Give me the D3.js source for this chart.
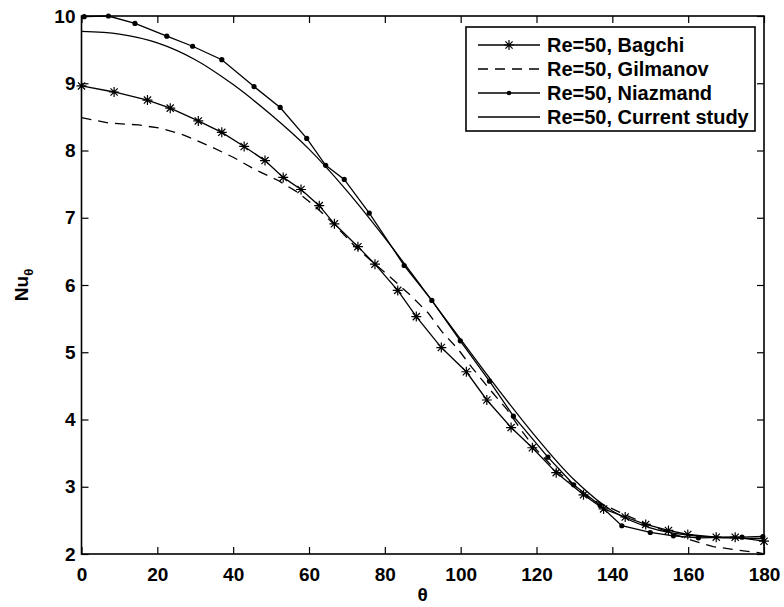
<!DOCTYPE html>
<html lang="en">
<head>
<meta charset="utf-8">
<title>Nu theta vs theta, Re=50</title>
<script src="https://cdnjs.cloudflare.com/ajax/libs/d3/7.8.5/d3.min.js"></script>
<style>
  body { margin: 0; background: #fff; }
  text { font-family: "Liberation Sans", Arial, sans-serif; font-weight: bold; fill: #000; }
</style>
</head>
<body>
<script>
// Bagchi (asterisks)
var bagchiTheta = [0, 8.6, 17.4, 23.4, 30.8, 37, 42.9, 48.4, 53.2, 57.9, 62.7, 66.7, 72.9, 77.4, 83.4, 88.3, 94.9, 101.5, 106.9, 113.3, 118.9, 125.2, 132.4, 137.7, 143.4, 148.8, 154.8, 159.9, 167.4, 172.4, 180];
var bagchiNu    = [8.96, 8.87, 8.75, 8.63, 8.44, 8.27, 8.06, 7.85, 7.60, 7.42, 7.18, 6.91, 6.57, 6.31, 5.92, 5.53, 5.07, 4.71, 4.29, 3.88, 3.58, 3.21, 2.88, 2.67, 2.55, 2.44, 2.35, 2.29, 2.25, 2.25, 2.19];

// Gilmanov (dashed)
var gilmanovTheta = [0, 7, 15, 21, 27, 34, 40, 46, 52, 57, 62, 67, 72, 77, 81.4, 86.7, 91.5, 95, 99.4, 103, 107.8, 112.2, 116.5, 120, 125, 130, 134, 142, 148, 155, 160.6, 166.6, 172.9, 178.6, 180];
var gilmanovNu    = [8.49, 8.41, 8.38, 8.33, 8.23, 8.06, 7.90, 7.71, 7.55, 7.38, 7.15, 6.88, 6.58, 6.33, 6.12, 5.85, 5.58, 5.31, 5.04, 4.77, 4.44, 4.15, 3.80, 3.55, 3.25, 3.02, 2.83, 2.62, 2.47, 2.32, 2.21, 2.11, 2.06, 2.02, 2.00];

// Niazmand (dots)
var niazTheta = [0.7, 7.1, 14.1, 22.5, 29.3, 37, 45.5, 52.4, 59.4, 64.4, 69.3, 75.9, 85.1, 92.4, 99.9, 107.6, 113.9, 123, 129.8, 136.8, 142.5, 150, 156.1, 162.7, 174.2, 179.7];
var niazNu    = [9.99, 10.0, 9.89, 9.70, 9.55, 9.35, 8.95, 8.64, 8.18, 7.78, 7.57, 7.07, 6.29, 5.77, 5.17, 4.57, 4.05, 3.44, 3.03, 2.72, 2.42, 2.32, 2.27, 2.24, 2.25, 2.26];

// Current study (smooth line)
var currentTheta = [0, 10, 20, 30, 40, 50, 60, 70, 80, 90, 100, 110, 120, 130, 140, 150, 160, 170, 180];
var currentNu    = [9.77, 9.73, 9.60, 9.35, 8.98, 8.53, 8.02, 7.40, 6.70, 5.95, 5.19, 4.44, 3.73, 3.10, 2.64, 2.39, 2.28, 2.24, 2.23];

var xTicks = [0, 20, 40, 60, 80, 100, 120, 140, 160, 180];
var yTicks = [2, 3, 4, 5, 6, 7, 8, 9, 10];
var legendLabels = ["Re=50, Bagchi", "Re=50, Gilmanov", "Re=50, Niazmand", "Re=50, Current study"];

var w = 784, h = 607;
var pLeft = 81.5, pRight = 764, pTop = 16, pBottom = 554;

var svg = d3.select("body").append("svg").attr("width", w).attr("height", h);

var x = d3.scaleLinear().domain([0, 180]).range([pLeft, pRight]);
var y = d3.scaleLinear().domain([2, 10]).range([pBottom, pTop]);

function zipPts(a, b) { return a.map(function(t, i) { return [t, b[i]]; }); }
var bagchi = zipPts(bagchiTheta, bagchiNu);
var gilmanov = zipPts(gilmanovTheta, gilmanovNu);
var niaz = zipPts(niazTheta, niazNu);
var current = zipPts(currentTheta, currentNu);

var line = d3.line().x(function(d) { return x(d[0]); }).y(function(d) { return y(d[1]); });
var smooth = d3.line().curve(d3.curveCatmullRom).x(function(d) { return x(d[0]); }).y(function(d) { return y(d[1]); });

svg.append("clipPath").attr("id", "clip").append("rect")
  .attr("x", pLeft).attr("y", pTop - 4).attr("width", pRight - pLeft + 6).attr("height", pBottom - pTop + 8);

var plot = svg.append("g").attr("clip-path", "url(#clip)");

plot.append("path").datum(current).attr("d", smooth)
  .attr("fill", "none").attr("stroke", "#000").attr("stroke-width", 1.3);
plot.append("path").datum(gilmanov).attr("d", line)
  .attr("fill", "none").attr("stroke", "#000").attr("stroke-width", 1.3).attr("stroke-dasharray", "10,7");
plot.append("path").datum(niaz).attr("d", line)
  .attr("fill", "none").attr("stroke", "#000").attr("stroke-width", 1.3);
plot.append("path").datum(bagchi).attr("d", line)
  .attr("fill", "none").attr("stroke", "#000").attr("stroke-width", 1.3);

// markers
var starPath = "M-5,0H5M0,-5V5M-3.6,-3.6L3.6,3.6M-3.6,3.6L3.6,-3.6";
svg.selectAll(".star").data(bagchi).enter().append("path")
  .attr("class", "star")
  .attr("transform", function(d) { return "translate(" + x(d[0]) + "," + y(d[1]) + ")"; })
  .attr("d", starPath).attr("stroke", "#000").attr("stroke-width", 1.2).attr("fill", "none");

svg.selectAll(".dot").data(niaz).enter().append("circle")
  .attr("class", "dot")
  .attr("cx", function(d) { return x(d[0]); })
  .attr("cy", function(d) { return y(d[1]); })
  .attr("r", 2.6).attr("fill", "#000");

// axes, ticks inward on all four sides
var fs = "19px";
var xAxisB = d3.axisBottom(x).tickValues(xTicks).tickSize(-7).tickPadding(14);
var xAxisT = d3.axisTop(x).tickValues(xTicks).tickSize(-7).tickFormat("");
var yAxisL = d3.axisLeft(y).tickValues(yTicks).tickSize(-7).tickPadding(6);
var yAxisR = d3.axisRight(y).tickValues(yTicks).tickSize(-7).tickFormat("");

function styleAxis(g) {
  g.select(".domain").remove();
  g.selectAll(".tick line").attr("stroke", "#000").attr("stroke-width", 1.2);
  g.selectAll("text").style("font-size", fs).style("font-family", "'Liberation Sans', Arial, sans-serif").style("font-weight", "bold");
}
svg.append("g").attr("transform", "translate(0," + pBottom + ")").call(xAxisB).call(styleAxis);
svg.append("g").attr("transform", "translate(0," + pTop + ")").call(xAxisT).call(styleAxis);
svg.append("g").attr("transform", "translate(" + pLeft + ",0)").call(yAxisL).call(styleAxis);
svg.append("g").attr("transform", "translate(" + pRight + ",0)").call(yAxisR).call(styleAxis);

svg.append("rect").attr("x", pLeft).attr("y", pTop).attr("width", pRight - pLeft).attr("height", pBottom - pTop)
  .attr("fill", "none").attr("stroke", "#000").attr("stroke-width", 1.6);

// axis titles
svg.append("text").attr("x", (pLeft + pRight) / 2).attr("y", 601).attr("text-anchor", "middle")
  .style("font-size", fs).text("θ");

var yl = svg.append("text").attr("transform", "translate(28," + ((pTop + pBottom) / 2) + ") rotate(-90)")
  .attr("text-anchor", "middle").style("font-size", fs);
yl.append("tspan").text("Nu");
yl.append("tspan").attr("dy", 5).style("font-size", "13px").text("θ");

// legend
var lx = 466, ly = 27, lw = 289, rowH = 24;
var leg = svg.append("g");
leg.append("rect").attr("x", lx).attr("y", ly).attr("width", lw).attr("height", 104)
  .attr("fill", "#fff").attr("stroke", "#000").attr("stroke-width", 1.6);

legendLabels.forEach(function(lab, i) {
  var cy = ly + 18 + i * rowH;
  var ln = leg.append("line").attr("x1", lx + 12).attr("x2", lx + 74).attr("y1", cy).attr("y2", cy)
    .attr("stroke", "#000").attr("stroke-width", 1.3);
  if (i === 1) ln.attr("stroke-dasharray", "10,7");
  if (i === 0) leg.append("path").attr("transform", "translate(" + (lx + 43) + "," + cy + ")")
    .attr("d", starPath).attr("stroke", "#000").attr("stroke-width", 1.2);
  if (i === 2) leg.append("circle").attr("cx", lx + 43).attr("cy", cy).attr("r", 2.3).attr("fill", "#000");
  leg.append("text").attr("x", lx + 81).attr("y", cy).attr("dy", "0.36em")
    .style("font-size", "20px").text(lab);
});
</script>
</body>
</html>
